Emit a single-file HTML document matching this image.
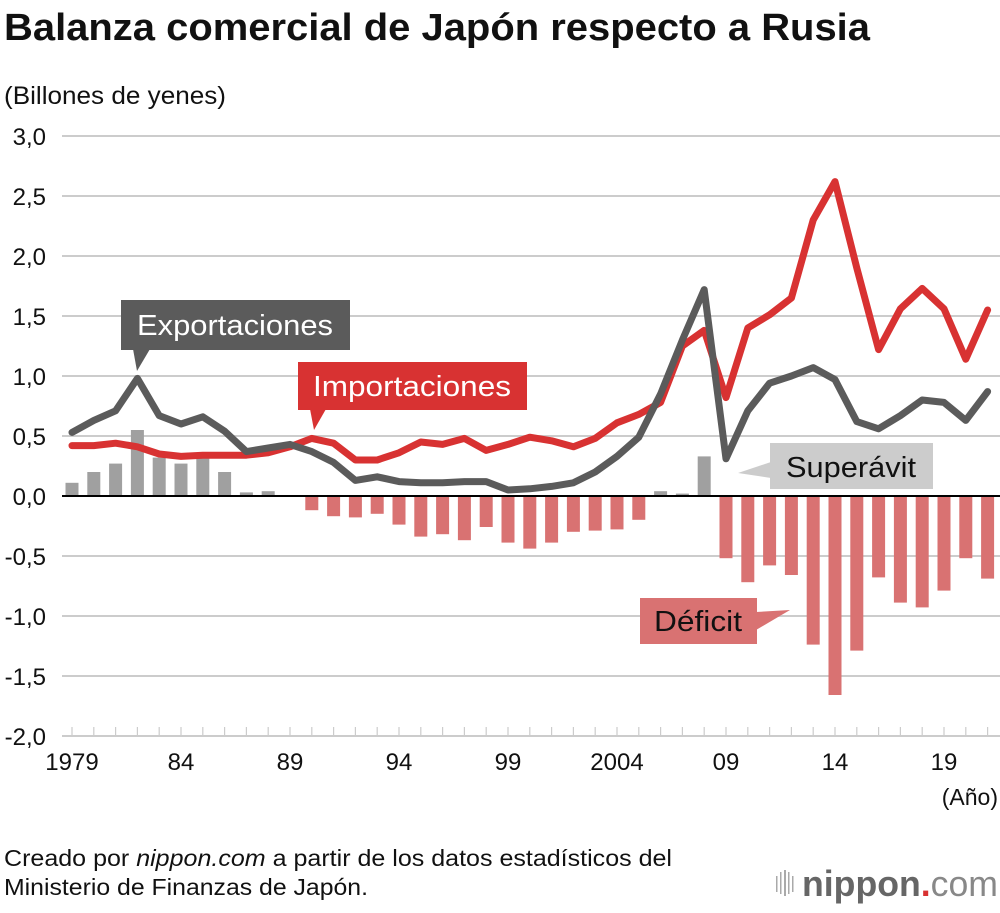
<!DOCTYPE html>
<html><head><meta charset="utf-8"><style>
body{margin:0;background:#fff;font-family:"Liberation Sans",Arial,sans-serif}
svg text{font-family:"Liberation Sans",Arial,sans-serif}
</style></head><body>
<svg id="chart" width="1000" height="908" viewBox="0 0 1000 908">
<text x="4" y="40" font-size="38" font-weight="bold" fill="#111" textLength="866" lengthAdjust="spacingAndGlyphs">Balanza comercial de Japón respecto a Rusia</text>
<text x="4" y="104" font-size="25" fill="#111" textLength="222" lengthAdjust="spacingAndGlyphs">(Billones de yenes)</text>
<g id="grid"></g><g id="bars"></g><g id="lines"></g>
<g id="callouts">
<g><rect x="121" y="300" width="229" height="50" fill="#5b5b5b"/><polygon points="133,349 150,349 137,371" fill="#5b5b5b"/><text x="235" y="335" font-size="29" fill="#fff" text-anchor="middle" textLength="196" lengthAdjust="spacingAndGlyphs">Exportaciones</text></g>
<g><rect x="298" y="362" width="229" height="48" fill="#d83232"/><polygon points="310,409 326,409 314,430" fill="#d83232"/><text x="412" y="396" font-size="29" fill="#fff" text-anchor="middle" textLength="198" lengthAdjust="spacingAndGlyphs">Importaciones</text></g>
<g><rect x="770" y="443" width="163" height="46" fill="#cccccc"/><polygon points="771,462 771,478 738,473" fill="#cccccc"/><text x="851" y="477" font-size="29" fill="#111" text-anchor="middle" textLength="130" lengthAdjust="spacingAndGlyphs">Superávit</text></g>
<g><rect x="640" y="598" width="117" height="46" fill="#d97272"/><polygon points="756,612 756,630 790,610" fill="#d97272"/><text x="698" y="631" font-size="29" fill="#111" text-anchor="middle" textLength="88" lengthAdjust="spacingAndGlyphs">Déficit</text></g>
</g>
<text x="998" y="805" font-size="23" fill="#111" text-anchor="end">(Año)</text>
<text x="4" y="866" font-size="23" fill="#111" textLength="668" lengthAdjust="spacingAndGlyphs">Creado por <tspan font-style="italic">nippon.com</tspan> a partir de los datos estadísticos del</text>
<text x="4" y="895" font-size="23" fill="#111" textLength="364" lengthAdjust="spacingAndGlyphs">Ministerio de Finanzas de Japón.</text>
<g>
<g fill="#aaa"><rect x="776" y="876" width="1.5" height="16"/><rect x="780" y="872" width="1.5" height="22"/><rect x="784" y="870" width="2" height="26"/><rect x="788" y="872" width="1.5" height="22"/><rect x="792" y="876" width="1.5" height="16"/></g>
<text x="802" y="896" font-size="36" fill="#666" font-weight="bold" textLength="196" lengthAdjust="spacingAndGlyphs">nippon<tspan fill="#d83232">.</tspan><tspan font-weight="normal" fill="#888">com</tspan></text></g>
</svg>
<script>
const years=[1979,1980,1981,1982,1983,1984,1985,1986,1987,1988,1989,1990,1991,1992,1993,1994,1995,1996,1997,1998,1999,2000,2001,2002,2003,2004,2005,2006,2007,2008,2009,2010,2011,2012,2013,2014,2015,2016,2017,2018,2019,2020,2021];
const exportsVals=[0.53,0.63,0.71,0.98,0.67,0.60,0.66,0.54,0.37,0.40,0.43,0.37,0.28,0.13,0.16,0.12,0.11,0.11,0.12,0.12,0.05,0.06,0.08,0.11,0.20,0.33,0.49,0.85,1.30,1.72,0.31,0.71,0.94,1.00,1.07,0.97,0.62,0.56,0.67,0.80,0.78,0.63,0.87];
const importsVals=[0.42,0.42,0.44,0.41,0.35,0.33,0.34,0.34,0.34,0.36,0.41,0.48,0.44,0.30,0.30,0.36,0.45,0.43,0.48,0.38,0.43,0.49,0.46,0.41,0.48,0.61,0.68,0.78,1.25,1.38,0.82,1.40,1.51,1.65,2.30,2.62,1.90,1.22,1.56,1.73,1.56,1.14,1.55];
const balanceVals=[0.11,0.20,0.27,0.55,0.32,0.27,0.32,0.20,0.03,0.04,0.0,-0.11,-0.16,-0.17,-0.14,-0.23,-0.33,-0.31,-0.36,-0.25,-0.38,-0.43,-0.38,-0.29,-0.28,-0.27,-0.19,0.04,0.02,0.33,-0.51,-0.71,-0.57,-0.65,-1.23,-1.65,-1.28,-0.67,-0.88,-0.92,-0.78,-0.51,-0.68];
const yTicks=[3.0,2.5,2.0,1.5,1.0,0.5,0.0,-0.5,-1.0,-1.5,-2.0];
const xLabelYears=[1979,1984,1989,1994,1999,2004,2009,2014,2019];
const xLabelText=["1979","84","89","94","99","2004","09","14","19"];
const NS="http://www.w3.org/2000/svg";
const x=yr=>72+(yr-1979)*21.8;
const y=v=>496-v*120;
function mk(tag,parent,attrs){const e=document.createElementNS(NS,tag);for(const k in attrs)e.setAttribute(k,attrs[k]);parent.appendChild(e);return e;}
const grid=document.getElementById('grid');
yTicks.forEach(t=>{
 const l=mk('line',grid,{x1:62,x2:1000,y1:y(t),y2:y(t),stroke:t===0?'#000':'#ccc','stroke-width':2});
 
 
 const tx=mk('text',grid,{x:46,y:y(t)+9,'font-size':24,'text-anchor':'end',fill:'#111'});
 tx.textContent=t.toFixed(1).replace('.',',');
 
 
});
years.forEach(yr=>{
 const tk=mk('line',grid,{x1:x(yr),x2:x(yr),y1:y(-2)-9,y2:y(-2),stroke:'#ccc','stroke-width':1.2});
 
 
});
xLabelYears.forEach((yr,i)=>{
 const tx=mk('text',grid,{x:x(yr),y:770,'font-size':24,'text-anchor':'middle',fill:'#111'});
 tx.textContent=xLabelText[i];
 
 
});
const bars=document.getElementById('bars');
balanceVals.forEach((v,i)=>{
 if(v===0)return;
 const top=Math.min(y(v),y(0)),h=Math.abs(y(v)-y(0));
 const r=mk('rect',bars,{x:x(years[i])-6.5,y:v>0?top:top+1,width:13,height:h,fill:v>0?'#a0a0a0':'#d97272'});
 
 
});
const z=mk('line',bars,{x1:62,x2:1000,y1:y(0),y2:y(0),stroke:'#000','stroke-width':2});


const lines=document.getElementById('lines');
const imp=mk('polyline',lines,{points:importsVals.map((v,i)=>x(years[i])+','+y(v)).join(' '),fill:'none',stroke:'#d83232','stroke-width':7,'stroke-linejoin':'round','stroke-linecap':'round'});


const exp=mk('polyline',lines,{points:exportsVals.map((v,i)=>x(years[i])+','+y(v)).join(' '),fill:'none',stroke:'#5b5b5b','stroke-width':7,'stroke-linejoin':'round','stroke-linecap':'round'});


</script>
</body></html>
